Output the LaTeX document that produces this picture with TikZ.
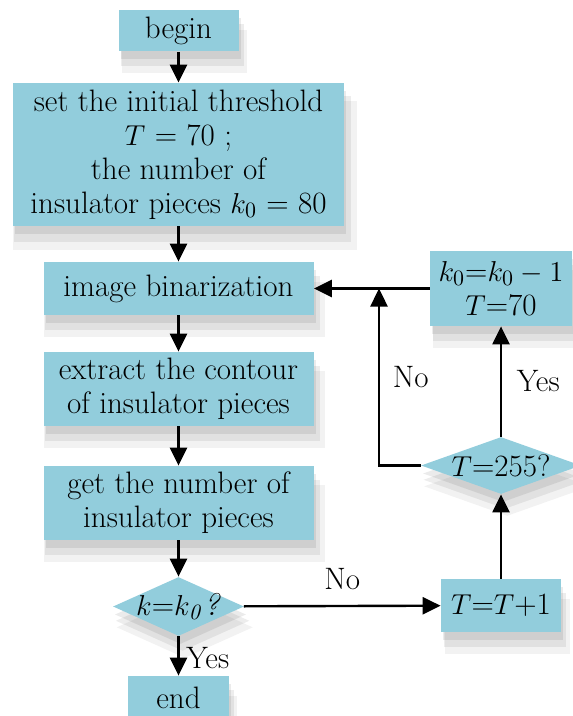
\documentclass[tikz,border=0pt]{standalone}
\usetikzlibrary{shapes.geometric,arrows.meta,shadows}

\definecolor{boxblue}{RGB}{146,205,220}

\tikzset{
    every node/.style={font=\fontsize{15.5}{17}\selectfont},
    soft shadow/.style={
        drop shadow={shadow xshift=1pt, shadow yshift=-4pt, opacity=.08, fill=black},
        drop shadow={shadow xshift=2pt, shadow yshift=-7pt, shadow scale=1.02, opacity=.07, fill=black},
        drop shadow={shadow xshift=3pt, shadow yshift=-10pt, shadow scale=1.04, opacity=.05, fill=black}},
    procbox/.style={fill=boxblue, inner sep=0pt, align=center, soft shadow},
    decision/.style={diamond, fill=boxblue, inner xsep=-3pt, inner ysep=-2pt, shape aspect=2.2, soft shadow},
    arr/.style={-{Triangle[length=9pt,width=8.5pt]}, line width=1.2pt},
}

\begin{document}
\begin{tikzpicture}[x=0.5pt, y=-0.5pt]
        \useasboundingbox (0, 0) rectangle (572, 716);
        % main column
        \node[procbox, minimum width=60pt, minimum height=20.5pt] (begin) at (178.5, 31) {begin};
        \node[procbox, minimum width=165.5pt, minimum height=71.5pt] (init) at (178.5, 154.5)
            {set the initial threshold\\ $T$ = 70 ;\\ the number of\\ insulator pieces $k_{\rm 0}$ = 80};
        \node[procbox, minimum width=135pt, minimum height=26.5pt] (binar) at (178.5, 288.5) {image binarization};
        \node[procbox, minimum width=135pt, minimum height=37pt] (contour) at (178.5, 389) {extract the contour\\ of insulator pieces};
        \node[procbox, minimum width=135pt, minimum height=37pt] (count) at (178.5, 503) {get the number of\\ insulator pieces};
        \node[decision, minimum width=65.5pt, minimum height=29.5pt] (check) at (178.5, 606.5) {$k$=$k_{\it 0}$\textit{?}};
        \node[procbox, minimum width=50.5pt, minimum height=22pt] (end) at (178.5, 698) {end};
        % right column
        \node[procbox, minimum width=60pt, minimum height=26.5pt] (incr) at (501, 605.5) {$T$=$T$+1};
        \node[decision, minimum width=80pt, minimum height=28.5pt] (limit) at (501, 465.5) {$T$=255?};
        \node[procbox, minimum width=71pt, minimum height=37.5pt] (reset) at (501, 288.5) {$k_{\rm 0}$=$k_{\rm 0}-1$\\ $T$=70};
        \coordinate (join) at (379, 288.5);

        \draw[arr] (begin) -- (init);
        \draw[arr] (init) -- (binar);
        \draw[arr] (binar) -- (contour);
        \draw[arr] (contour) -- (count);
        \draw[arr] (count) -- (check);
        \draw[arr] (check) -- node[right, xshift=0pt, yshift=-1pt] {Yes} (end);
        \draw[arr] (check) -- node[above, yshift=4pt] {No} (incr);
        \draw[arr] (incr) -- (limit);
        \draw[arr] (limit) -- node[right, xshift=4pt] {Yes} (reset);
        \draw[arr] (reset) -- (binar);
        \draw[arr] (limit) -| node[pos=0.75, right, xshift=3pt] {No} (join);
    \end{tikzpicture}
\end{document}
